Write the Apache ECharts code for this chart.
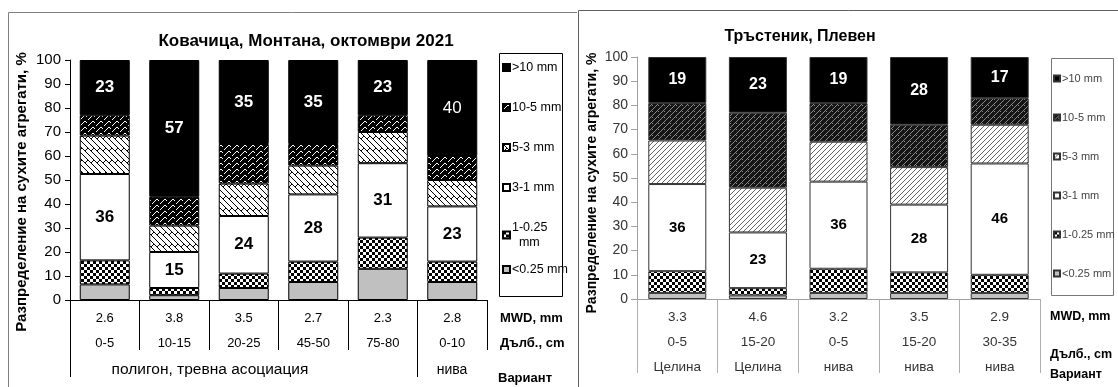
<!DOCTYPE html>
<html><head><meta charset="utf-8">
<script src="https://cdn.jsdelivr.net/npm/echarts@6/dist/echarts.min.js"></script>
<style>html,body{margin:0;padding:0;background:#fff}#c{width:1118px;height:387px}</style>
</head><body><div id="c"></div><script>
// Fraction names, bottom of the stack first
const fractions = ['<0.25 mm', '1-0.25 mm', '3-1 mm', '5-3 mm', '10-5 mm', '>10 mm'];

// Ковачица, Монтана, октомври 2021
const kovDepth = ['0-5', '10-15', '20-25', '45-50', '75-80', '0-10'];
const kovMwd = ['2.6', '3.8', '3.5', '2.7', '2.3', '2.8'];
const kovVariantGroups = ['полигон, тревна асоциация', 'нива'];
const kovLt025 = [6.5, 2, 5, 7.5, 13, 7.5];
const kov1to025 = [10, 3, 6, 8.5, 13, 8.5];
const kov3to1 = [36, 15, 24, 28, 31, 23];
const kov5to3 = [16, 11, 13.5, 12, 13, 11];
const kov10to5 = [8.5, 12, 16.5, 9, 7, 10];
const kovGt10 = [23, 57, 35, 35, 23, 40];

// Тръстеник, Плевен
const trDepth = ['0-5', '15-20', '0-5', '15-20', '30-35'];
const trMwd = ['3.3', '4.6', '3.2', '3.5', '2.9'];
const trVariant = ['Целина', 'Целина', 'нива', 'нива', 'нива'];
const trLt025 = [2.5, 1.5, 2.5, 2.5, 2.5];
const tr1to025 = [9, 3, 10, 8.5, 7.5];
const tr3to1 = [36, 23, 36, 28, 46];
const tr5to3 = [18, 18.5, 16.5, 15.5, 16];
const tr10to5 = [15.5, 31, 16, 17.5, 11];
const trGt10 = [19, 23, 19, 28, 17];

const yTicks = { min: 0, max: 100, interval: 10 };

const SANS = "'Liberation Sans',Arial,sans-serif";

function pattern(w, h, draw) {
  const c = document.createElement('canvas');
  c.width = w; c.height = h;
  const g = c.getContext('2d');
  draw(g);
  return { image: c, repeat: 'repeat' };
}
const fillGray = '#c0c0c0';
const checker = pattern(6, 6, g => {
  g.fillStyle = '#fff'; g.fillRect(0, 0, 6, 6);
  g.fillStyle = '#000'; g.fillRect(0, 0, 3, 3); g.fillRect(3, 3, 3, 3);
});
const brick = pattern(12, 12, g => {
  g.fillStyle = '#fff'; g.fillRect(0, 0, 12, 12);
  g.strokeStyle = '#000'; g.lineWidth = 1;
  g.beginPath();
  g.moveTo(0, 0); g.lineTo(12, 12);
  g.moveTo(0, 6); g.lineTo(6, 12);
  g.moveTo(6, 0); g.lineTo(12, 6);
  g.moveTo(4, 4); g.lineTo(1, 7);
  g.moveTo(10, 4); g.lineTo(7, 7);
  g.stroke();
});
const darkZig = pattern(8, 6, g => {
  g.fillStyle = '#000'; g.fillRect(0, 0, 8, 6);
  g.strokeStyle = '#fff'; g.lineWidth = 1;
  g.beginPath(); g.moveTo(0, 6); g.lineTo(5, 1); g.lineTo(7, 3); g.stroke();
});
const darkDiag = pattern(6, 6, g => {
  g.fillStyle = '#151515'; g.fillRect(0, 0, 6, 6);
  g.strokeStyle = '#8a8a8a'; g.lineWidth = 1;
  g.beginPath(); g.moveTo(0, 6); g.lineTo(6, 0); g.moveTo(3, 2); g.lineTo(5, 4); g.stroke();
});
const lightDiag = pattern(5, 5, g => {
  g.fillStyle = '#fff'; g.fillRect(0, 0, 5, 5);
  g.strokeStyle = '#666'; g.lineWidth = 1;
  g.beginPath(); g.moveTo(0, 5); g.lineTo(5, 0); g.stroke();
});

const kovFills = [fillGray, checker, '#fff', brick, darkZig, '#000'];
const trFills = [fillGray, checker, '#fff', lightDiag, darkDiag, '#000'];
const kovValues = [kovLt025, kov1to025, kov3to1, kov5to3, kov10to5, kovGt10];
const trValues = [trLt025, tr1to025, tr3to1, tr5to3, tr10to5, trGt10];

const series = [];
fractions.forEach((name, k) => {
  let data = kovValues[k];
  let label = { show: false };
  if (k === 5) {
    data = kovGt10.map((v, i) => i === 5 ? { value: v, label: { fontWeight: 'normal' } } : v);
    label = { show: true, position: 'inside', color: '#fff', fontWeight: 'bold', fontSize: 17, fontFamily: SANS };
  } else if (k === 2) {
    label = { show: true, position: 'inside', color: '#000', fontWeight: 'bold', fontSize: 17, fontFamily: SANS };
  }
  series.push({
    name, type: 'bar', stack: 'kov', xAxisIndex: 0, yAxisIndex: 0, barWidth: 50,
    data, label, silent: true,
    itemStyle: { color: kovFills[k], borderColor: '#000', borderWidth: 1 }
  });
});
fractions.forEach((name, k) => {
  let label = { show: false };
  if (k === 5) label = { show: true, position: 'inside', color: '#fff', fontWeight: 'bold', fontSize: 16, fontFamily: SANS };
  else if (k === 2) label = { show: true, position: 'inside', color: '#000', fontWeight: 'bold', fontSize: 15, fontFamily: SANS };
  series.push({
    name: name + '|tr', type: 'bar', stack: 'tr', xAxisIndex: 1, yAxisIndex: 1, barWidth: 58,
    data: trValues[k], label, silent: true,
    itemStyle: { color: trFills[k], borderColor: '#333', borderWidth: 1 }
  });
});

const legendOrder = fractions.slice().reverse();
const kovLegendBase = { orient: 'vertical', left: 502, itemWidth: 7, itemHeight: 7, itemGap: 25, padding: 0,
  selectedMode: false, icon: 'rect',
  textStyle: { fontFamily: SANS, fontSize: 12.5, color: '#000', padding: [0, 0, 0, -3], lineHeight: 15 } };

const chart = echarts.init(document.getElementById('c'), null, { renderer: 'canvas' });
chart.setOption({
  animation: false,
  backgroundColor: '#fff',
  title: [
    { text: 'Ковачица, Монтана, октомври 2021', left: 301, top: 28, textAlign: 'center',
      textStyle: { fontFamily: SANS, fontWeight: 'bold', fontSize: 17, color: '#000' } },
    { text: 'Тръстеник, Плевен', left: 795, top: 24, textAlign: 'center',
      textStyle: { fontFamily: SANS, fontWeight: 'bold', fontSize: 16, color: '#000' } }
  ],
  grid: [
    { left: 70, top: 60, width: 417, height: 240 },
    { left: 637, top: 57, width: 403, height: 242 }
  ],
  legend: [
    Object.assign({}, kovLegendBase, { top: 60, data: legendOrder.slice(0, 5),
      formatter: n => n === '1-0.25 mm' ? '1-0.25\n  mm' : n }),
    Object.assign({}, kovLegendBase, { top: 262, data: legendOrder.slice(5) }),
    { orient: 'vertical', left: 1053, top: 72, itemWidth: 6, itemHeight: 6, itemGap: 26, padding: 0,
      selectedMode: false, icon: 'rect',
      data: legendOrder.map(n => n + '|tr'),
      formatter: n => n.split('|')[0],
      textStyle: { fontFamily: SANS, fontSize: 11, color: '#444', padding: [0, 0, 0, -3], lineHeight: 13 } }
  ],
  xAxis: [
    { type: 'category', gridIndex: 0, data: kovDepth,
      axisLine: { lineStyle: { color: '#000', width: 1 } },
      axisTick: { show: true, interval: 0, length: 50, lineStyle: { color: '#000' } },
      axisLabel: { interval: 0, margin: 6, lineHeight: 25, fontFamily: SANS, fontSize: 13, color: '#000',
        formatter: (v, i) => kovMwd[i] + '\n' + v } },
    { type: 'category', gridIndex: 1, data: trDepth,
      axisLine: { lineStyle: { color: '#a0a0a0', width: 1 } },
      axisTick: { show: true, interval: 0, length: 74, lineStyle: { color: '#b0b0b0' } },
      axisLabel: { interval: 0, margin: 6, lineHeight: 25, fontFamily: SANS, fontSize: 13.5, color: '#333',
        formatter: (v, i) => trMwd[i] + '\n' + v + '\n' + trVariant[i] } }
  ],
  yAxis: [
    { type: 'value', gridIndex: 0, min: yTicks.min, max: yTicks.max, interval: yTicks.interval,
      splitLine: { show: false },
      axisLine: { show: true, lineStyle: { color: '#000' } },
      axisTick: { show: true, length: 5, lineStyle: { color: '#000' } },
      axisLabel: { margin: 9, fontFamily: SANS, fontSize: 15, color: '#000' } },
    { type: 'value', gridIndex: 1, min: yTicks.min, max: yTicks.max, interval: yTicks.interval,
      splitLine: { show: false },
      axisLine: { show: true, lineStyle: { color: '#a0a0a0' } },
      axisTick: { show: true, length: 6, lineStyle: { color: '#a0a0a0' } },
      axisLabel: { margin: 9, fontFamily: SANS, fontSize: 14, color: '#333' } }
  ],
  series,
  graphic: [
    // panel frames
    { type: 'polyline', shape: { points: [[8.5, 387], [8.5, 12.5], [577, 12.5]] }, style: { stroke: '#808080', fill: null, lineWidth: 1 } },
    { type: 'polyline', shape: { points: [[578.5, 387], [578.5, 10.5], [1118, 10.5]] }, style: { stroke: '#606060', fill: null, lineWidth: 1 } },
    // legend boxes
    { type: 'rect', shape: { x: 499.5, y: 53.5, width: 63, height: 243 }, style: { stroke: '#000', fill: null, lineWidth: 1 }, z: -1 },
    { type: 'rect', shape: { x: 1051.5, y: 58.5, width: 62, height: 237 }, style: { stroke: '#777', fill: null, lineWidth: 1 }, z: -1 },
    // longer separators of the left table
    { type: 'line', shape: { x1: 70.5, y1: 300, x2: 70.5, y2: 377 }, style: { stroke: '#000', lineWidth: 1 } },
    { type: 'line', shape: { x1: 417.5, y1: 300, x2: 417.5, y2: 377 }, style: { stroke: '#000', lineWidth: 1 } },
    // variant row of the left table
    { type: 'text', x: 210, y: 370, style: { text: kovVariantGroups[0], textAlign: 'center', textVerticalAlign: 'middle', font: '15.5px ' + SANS, fill: '#000' } },
    { type: 'text', x: 452, y: 370, style: { text: kovVariantGroups[1], textAlign: 'center', textVerticalAlign: 'middle', font: '14px ' + SANS, fill: '#000' } },
    // row titles
    { type: 'text', x: 500, y: 318, style: { text: 'MWD, mm', textVerticalAlign: 'middle', font: 'bold 13px ' + SANS, fill: '#000' } },
    { type: 'text', x: 500, y: 343, style: { text: 'Дълб., cm', textVerticalAlign: 'middle', font: 'bold 13px ' + SANS, fill: '#000' } },
    { type: 'text', x: 498, y: 378, style: { text: 'Вариант', textVerticalAlign: 'middle', font: 'bold 13px ' + SANS, fill: '#000' } },
    { type: 'text', x: 1050, y: 317, style: { text: 'MWD, mm', textVerticalAlign: 'middle', font: 'bold 12.5px ' + SANS, fill: '#000' } },
    { type: 'text', x: 1050, y: 355, style: { text: 'Дълб., cm', textVerticalAlign: 'middle', font: 'bold 12.5px ' + SANS, fill: '#000' } },
    { type: 'text', x: 1050, y: 375, style: { text: 'Вариант', textVerticalAlign: 'middle', font: 'bold 12.5px ' + SANS, fill: '#000' } },
    // value axis titles
    { type: 'text', x: 22, y: 192, rotation: Math.PI / 2, style: { text: 'Разпределение на сухите агрегати, %', textAlign: 'center', textVerticalAlign: 'middle', font: 'bold 15px ' + SANS, fill: '#000' } },
    { type: 'text', x: 592, y: 183, rotation: Math.PI / 2, style: { text: 'Разпределение на сухите агрегати, %', textAlign: 'center', textVerticalAlign: 'middle', font: 'bold 14px ' + SANS, fill: '#000' } }
  ]
});
</script></body></html>
